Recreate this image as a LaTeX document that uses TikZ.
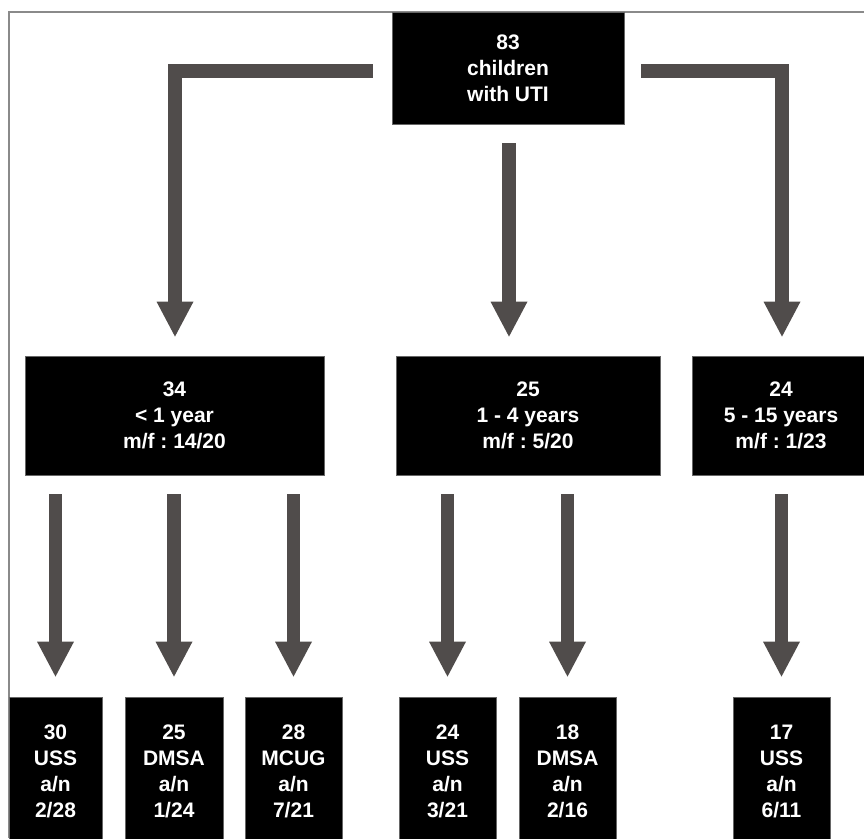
\documentclass[tikz,border=0pt]{standalone}
\usepackage{fontspec}
\newfontfamily\boxfont{Liberation Sans Bold}
\usetikzlibrary{arrows.meta,calc}
\definecolor{arrowc}{HTML}{504C4B}
\definecolor{framec}{HTML}{8A8A8A}
\frenchspacing
\tikzset{
  box/.style={fill=black,draw=black!60,line width=0.8pt,text=white,align=center,
    font=\boxfont\fontsize{21}{26}\selectfont,inner sep=0pt},
  bigarrow/.style={draw=arrowc,line width=13.5pt,line join=miter,
    -{Triangle[width=37pt,length=35pt,line width=0pt,fill=arrowc,color=arrowc]}}
}
\begin{document}
\begin{tikzpicture}[x=1pt,y=-1pt]
\useasboundingbox (0,0) rectangle (864,838);
\clip (0,0) rectangle (864,838);
% frame
\draw[framec,line width=1.3pt] (9,838) -- (9,12) -- (864,12);
% nodes
\node[box,minimum width=232pt,minimum height=112pt] (top) at (508,68) {83\\children\\with UTI};
\node[box,minimum width=299pt,minimum height=119pt] (n34) at (174.5,415.5) {34\\< 1 year\\m/f : 14/20};
\node[box,minimum width=264pt,minimum height=119pt] (n25) at (528,415.5) {25\\1 - 4 years\\m/f : 5/20};
\node[box,minimum width=178pt,minimum height=119pt] (n24) at (781,415.5) {24\\5 - 15 years\\m/f : 1/23};
\node[box,minimum width=93pt,minimum height=148pt] (b1) at (55.5,771) {30\\USS\\a/n\\2/28};
\node[box,minimum width=98pt,minimum height=148pt] (b2) at (174,771) {25\\DMSA\\a/n\\1/24};
\node[box,minimum width=97pt,minimum height=148pt] (b3) at (293.5,771) {28\\MCUG\\a/n\\7/21};
\node[box,minimum width=97pt,minimum height=148pt] (b4) at (447.5,771) {24\\USS\\a/n\\3/21};
\node[box,minimum width=97pt,minimum height=148pt] (b5) at (567.5,771) {18\\DMSA\\a/n\\2/16};
\node[box,minimum width=97pt,minimum height=148pt] (b6) at (781.5,771) {17\\USS\\a/n\\6/11};
% top arrows
\draw[bigarrow] ($(top.west)+(-19,3)$) -| ($(n34.north)+(0.5,-19)$);
\draw[bigarrow] ($(top.east)+(17,3)$) -| ($(n24.north)+(1,-19)$);
\draw[bigarrow] ($(top.south)+(1,19)$) -- ($(top.south |- n25.north)+(1,-19)$);
% lower arrows
\foreach \b/\m in {b1/n34,b2/n34,b3/n34,b4/n25,b5/n25,b6/n24}{
  \draw[bigarrow] ($(\b.north |- \m.south)+(0,19)$) -- ($(\b.north)+(0,-20)$);
}
\end{tikzpicture}
\end{document}
